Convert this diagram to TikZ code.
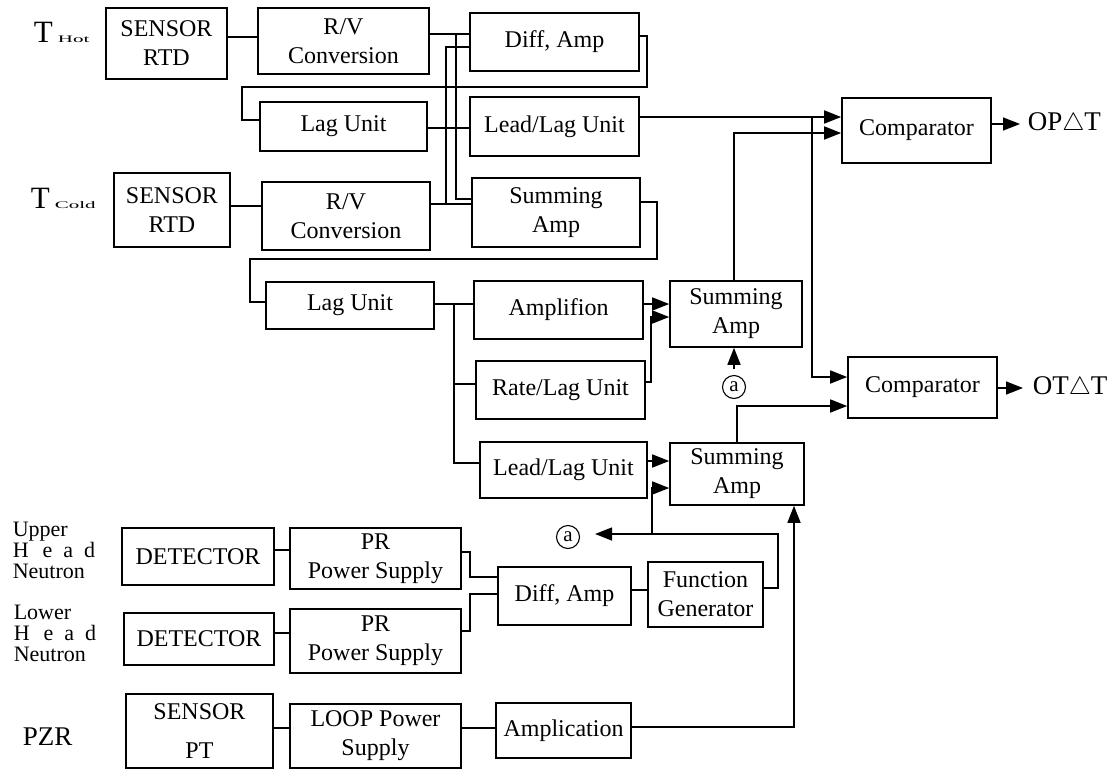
\documentclass[tikz,border=0pt]{standalone}
\usepackage{fontspec}
\setmainfont{Liberation Serif}
\usetikzlibrary{arrows.meta}
\newcommand{\subtag}[1]{\scalebox{2.1}[1]{\fontsize{10}{10}\selectfont #1}}

\begin{document}
\begin{tikzpicture}[x=1pt,y=-1pt,line width=1.6pt,
   blk/.style={draw,inner sep=0pt,align=center,font=\fontsize{24}{29}\selectfont},
   arw/.style={-{Triangle[length=17pt,width=13pt]}},
   side/.style={inner sep=0pt,font=\fontsize{27}{30}\selectfont},
   flux/.style={inner sep=0pt,align=left,font=\fontsize{22}{21}\selectfont},
   circmark/.style={circle,draw,line width=1.1pt,inner sep=0pt,minimum size=23pt,font=\fontsize{21}{21}\selectfont}]
   \useasboundingbox[fill=white] (0,0) rectangle (1111,769);
   % hot and cold leg
   \node (thot) at (33,42) [anchor=base west,side,font=\fontsize{31}{31}\selectfont] {T\,\subtag{Hot}};
   \node (tcold) at (30,208) [anchor=base west,side,font=\fontsize{31}{31}\selectfont] {T\,\subtag{Cold}};
   \node (sensor1) at (166.5,43.5) [blk,minimum width=121pt,minimum height=71pt] {SENSOR\\RTD};
   \node (avconv1) at (343.5,41) [blk,minimum width=171pt,minimum height=66pt] {R/V\\Conversion};
   \node (diffamp1) at (554.5,42) [blk,minimum width=169pt,minimum height=58pt] {Diff, Amp};
   \node (lagunit1) at (343.5,126.5) [blk,minimum width=167pt,minimum height=49pt] {Lag Unit};
   \node (leadlag1) at (554.5,126.5) [blk,minimum width=169pt,minimum height=59pt] {Lead/Lag Unit};
   \node (sensor2) at (172,210) [blk,minimum width=116pt,minimum height=74pt] {SENSOR\\RTD};
   \node (avconv2) at (346,216) [blk,minimum width=168pt,minimum height=68pt] {R/V\\Conversion};
   \node (sumamp1) at (556,212.5) [blk,minimum width=168pt,minimum height=69pt] {Summing\\Amp};
   \node (comp1) at (916.5,130.5) [blk,minimum width=149pt,minimum height=65pt] {Comparator};
   \node (opdt) at (1027,124) [anchor=west,side] {OP$\triangle$T};
   \node (lagunit2) at (350,305.5) [blk,minimum width=168pt,minimum height=47pt] {Lag Unit};
   \node (amplif) at (558.5,310) [blk,minimum width=169pt,minimum height=58pt] {Amplifion};
   \node (rate) at (560.5,390) [blk,minimum width=169pt,minimum height=58pt] {Rate/Lag Unit};
   \node (leadlag2) at (563.5,470) [blk,minimum width=167pt,minimum height=56pt] {Lead/Lag Unit};
   \node (sumamp2) at (736,314) [blk,minimum width=132pt,minimum height=66pt] {Summing\\Amp};
   \node (sumamp3) at (737,474) [blk,minimum width=134pt,minimum height=62pt] {Summing\\Amp};
   \node (comp2) at (922.5,387.5) [blk,minimum width=149pt,minimum height=61pt] {Comparator};
   \node (otdt) at (1032,388) [anchor=west,side] {OT$\triangle$T};
   \node (mark1) at (734,387) [circmark] {a};
   \node (mark2) at (568,537) [circmark] {a};
   % neutron flux and pressure
   \node (upper) at (12,521) [anchor=north west,flux] {Upper\\H\hspace{14pt}e\hspace{11pt}a\hspace{11pt}d\\Neutron};
   \node (lower) at (13,604) [anchor=north west,flux] {Lower\\H\hspace{14pt}e\hspace{11pt}a\hspace{11pt}d\\Neutron};
   \node (pzr) at (22,737) [anchor=west,side] {PZR};
   \node (detect1) at (198,556.5) [blk,minimum width=152pt,minimum height=57pt] {DETECTOR};
   \node (prsup1) at (375.5,558.5) [blk,minimum width=171pt,minimum height=61pt] {PR\\Power Supply};
   \node (detect2) at (199,639) [blk,minimum width=150pt,minimum height=52pt] {DETECTOR};
   \node (prsup2) at (375.5,641) [blk,minimum width=171pt,minimum height=64pt] {PR\\Power Supply};
   \node (diffamp2) at (564.5,596) [blk,minimum width=133pt,minimum height=58pt] {Diff, Amp};
   \node (funcgen) at (705.5,594.5) [blk,minimum width=115pt,minimum height=65pt] {Function\\Generator};
   \node (sensorpt) at (199.5,731) [blk,minimum width=147pt,minimum height=74pt] {SENSOR\\[10pt]PT};
   \node (loopsup) at (375.5,736) [blk,minimum width=171pt,minimum height=64pt] {LOOP Power\\Supply};
   \node (amplic) at (563.5,730.5) [blk,minimum width=135pt,minimum height=55pt] {Amplication};
   % connectors, upper part
   \draw (sensor1.east |- 0,37) -- (avconv1.west |- 0,37);
   \draw (avconv1.east |- 0,34) -- (diffamp1.west |- 0,34);
   \draw (456,34) -- (456,199) -- (sumamp1.west |- 0,199);
   \draw (sensor2.east |- 0,206) -- (avconv2.west |- 0,206);
   \draw (avconv2.east |- 0,204) -- (sumamp1.west |- 0,204);
   \draw (446,204) -- (446,47) -- (diffamp1.west |- 0,47);
   \draw (diffamp1.east |- 0,36) -- (647,36) -- (647,87) -- (242,87) |- (lagunit1.west |- 0,120);
   \draw (lagunit1.east |- 0,128) -- (leadlag1.west |- 0,128);
   \draw[arw] (leadlag1.east |- 0,117) -- (comp1.west |- 0,117);
   \draw[arw] (812,117) |- (comp2.west |- 0,377);
   \draw (sumamp1.east |- 0,202) -- (657,202) -- (657,259) -- (250,259) |- (lagunit2.west |- 0,302);
   \draw (lagunit2.east |- 0,304) -- (amplif.west |- 0,304);
   \draw (454,304) |- (rate.west |- 0,384);
   \draw (454,384) |- (leadlag2.west |- 0,463);
   \draw[arw] (amplif.east |- 0,304) -- (sumamp2.west |- 0,304);
   \draw[arw] (rate.east |- 0,382) -| (651,317) -- (sumamp2.west |- 0,317);
   \draw[arw] (sumamp2.north -| 734,0) |- (comp1.west |- 0,133);
   \draw[arw,shorten <=6pt] (mark1.north) -- (mark1.north |- sumamp2.south);
   \draw[arw] (leadlag2.east |- 0,461) -- (sumamp3.west |- 0,461);
   \draw[arw] (sumamp3.north) |- (comp2.west |- 0,406);
   \draw[arw,shorten >=7pt] (comp1.east |- 0,124) -- (opdt.west);
   \draw[arw,shorten >=9pt] (comp2.east |- 0,388) -- (otdt.west);
   % connectors, lower part
   \draw (detect1.east |- 0,550) -- (prsup1.west |- 0,550);
   \draw (detect2.east |- 0,633) -- (prsup2.west |- 0,633);
   \draw (prsup1.east |- 0,552) -- (470,552) |- (diffamp2.west |- 0,577);
   \draw (prsup2.east |- 0,631) -- (470,631) |- (diffamp2.west |- 0,594);
   \draw (diffamp2.east |- 0,590) -- (funcgen.west |- 0,590);
   \draw (funcgen.east |- 0,588) -- (778,588) -- (778,534) -- (652,534);
   \draw[arw] (652,534) |- (sumamp3.west |- 0,488);
   \draw[arw,shorten >=15pt] (652,534) -- (mark2.east |- 0,534);
   \draw (sensorpt.east |- 0,728) -- (loopsup.west |- 0,728);
   \draw (loopsup.east |- 0,728) -- (amplic.west |- 0,728);
   \draw[arw] (amplic.east |- 0,727) -| (sumamp3.south -| 794,0);
\end{tikzpicture}
\end{document}
